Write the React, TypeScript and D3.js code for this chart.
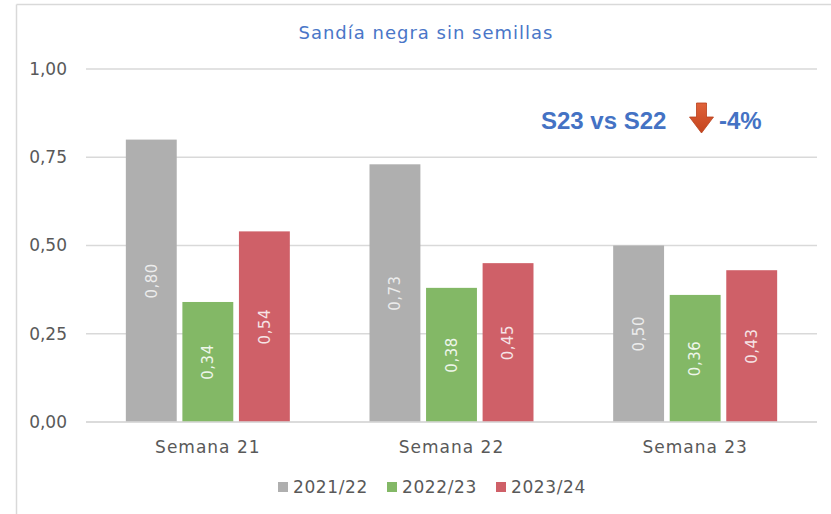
import React from "react";
import * as d3 from "d3";

const categories = ["Semana 21", "Semana 22", "Semana 23"];
const seriesNames = ["2021/22", "2022/23", "2023/24"];
const values2122 = [0.8, 0.73, 0.5];
const values2223 = [0.34, 0.38, 0.36];
const values2324 = [0.54, 0.45, 0.43];
const yTicks = [0, 0.25, 0.5, 0.75, 1.0];
const seriesColors = ["#afafaf", "#83b866", "#cf6068"];
const labelColors = ["#ececec", "#eef6ea", "#f6e4e6"];
const titleText = "Sandía negra sin semillas";
const annotationLeft = "S23 vs S22";
const annotationRight = "-4%";

const W = 831;
const H = 514;
const plotLeft = 86;
const plotRight = 817;
const plotTop = 69;
const plotBottom = 422;

const fmt = (v: number) => v.toFixed(2).replace(".", ",");

export default function App() {
  const seriesValues = [values2122, values2223, values2324];
  const x = d3
    .scaleBand<string>()
    .domain(categories)
    .range([plotLeft, plotRight])
    .paddingInner(0.327)
    .paddingOuter(0.1635);
  const xs = d3
    .scaleBand<string>()
    .domain(seriesNames)
    .range([0, x.bandwidth()])
    .paddingInner(0.1);
  const y = d3.scaleLinear().domain([0, 1]).range([plotBottom, plotTop]);

  const font = "'DejaVu Sans', sans-serif";
  const textGray = "#595959";

  // arrow geometry
  const ax = 701.5;
  const arrowPath = d3.path();
  arrowPath.moveTo(ax - 5, 103);
  arrowPath.lineTo(ax + 5, 103);
  arrowPath.lineTo(ax + 5, 117);
  arrowPath.lineTo(ax + 12, 117);
  arrowPath.lineTo(ax, 133);
  arrowPath.lineTo(ax - 12, 117);
  arrowPath.lineTo(ax - 5, 117);
  arrowPath.closePath();

  const legendItems = [
    { x: 278, name: seriesNames[0], color: seriesColors[0] },
    { x: 387, name: seriesNames[1], color: seriesColors[1] },
    { x: 496, name: seriesNames[2], color: seriesColors[2] },
  ];

  return (
    <div style={{ position: "absolute", left: 0, top: 0 }}>
      <svg width={W} height={H} style={{ display: "block", background: "#ffffff" }}>
        <defs>
          <linearGradient id="arrowGrad" x1="0" x2="0" y1="0" y2="1">
            <stop offset="0%" stopColor="#e0623a" />
            <stop offset="100%" stopColor="#c4441d" />
          </linearGradient>
        </defs>
        {/* frame */}
        <line x1={16.5} x2={16.5} y1={4.5} y2={H} stroke="#d9d9d9" strokeWidth={1.5} />
        <line x1={16.5} x2={W} y1={4.5} y2={4.5} stroke="#d9d9d9" strokeWidth={1.5} />

        {/* title */}
        <text
          x={426}
          y={39}
          textAnchor="middle"
          fontFamily={font}
          fontSize={18}
          letterSpacing={1}
          fill="#4a76c8"
        >
          {titleText}
        </text>

        {/* gridlines and y ticks */}
        {yTicks.map((t) => (
          <g key={t}>
            <line
              x1={plotLeft}
              x2={plotRight}
              y1={y(t)}
              y2={y(t)}
              stroke="#d9d9d9"
              strokeWidth={1.5}
            />
            <text
              x={67}
              y={y(t)}
              dy="0.35em"
              textAnchor="end"
              fontFamily={font}
              fontSize={17}
              fill={textGray}
            >
              {fmt(t)}
            </text>
          </g>
        ))}

        {/* bars */}
        {categories.map((c, ci) => (
          <g key={c} transform={`translate(${x(c)},0)`}>
            {seriesNames.map((s, si) => {
              const v = seriesValues[si][ci];
              const bx = xs(s) as number;
              const bw = xs.bandwidth();
              const top = y(v);
              const cx = bx + bw / 2;
              const cy = (top + y(0)) / 2;
              return (
                <g key={s}>
                  <rect
                    x={bx}
                    y={top}
                    width={bw}
                    height={y(0) - top}
                    fill={seriesColors[si]}
                  />
                  <text
                    transform={`translate(${cx},${cy}) rotate(-90)`}
                    textAnchor="middle"
                    dy="0.35em"
                    fontFamily={font}
                    fontSize={15}
                    letterSpacing={0.5}
                    fill={labelColors[si]}
                  >
                    {fmt(v)}
                  </text>
                </g>
              );
            })}
          </g>
        ))}
        {/* baseline */}
        <line
          x1={plotLeft}
          x2={plotRight}
          y1={y(0)}
          y2={y(0)}
          stroke="#d9d9d9"
          strokeWidth={1.5}
        />

        {/* category labels */}
        {categories.map((c) => (
          <text
            key={c}
            x={(x(c) as number) + x.bandwidth() / 2}
            y={453}
            textAnchor="middle"
            fontFamily={font}
            fontSize={17}
            letterSpacing={1}
            fill={textGray}
          >
            {c}
          </text>
        ))}

        {/* legend */}
        {legendItems.map((it) => (
          <g key={it.name}>
            <rect x={it.x} y={482} width={10} height={10} fill={it.color} />
            <text
              x={it.x + 15}
              y={487}
              dy="0.35em"
              fontFamily={font}
              fontSize={17}
              letterSpacing={0.6}
              fill={textGray}
            >
              {it.name}
            </text>
          </g>
        ))}

        {/* annotation */}
        <text
          x={541}
          y={129}
          fontFamily="'Liberation Sans', Arial, sans-serif"
          fontWeight="bold"
          fontSize={24}
          fill="#4472c4"
        >
          {annotationLeft}
        </text>
        <path d={arrowPath.toString()} fill="url(#arrowGrad)" stroke="#b8401c" strokeWidth={0.8} />
        <text
          x={719}
          y={129}
          fontFamily="'Liberation Sans', Arial, sans-serif"
          fontWeight="bold"
          fontSize={24}
          fill="#4472c4"
        >
          {annotationRight}
        </text>
      </svg>
    </div>
  );
}
